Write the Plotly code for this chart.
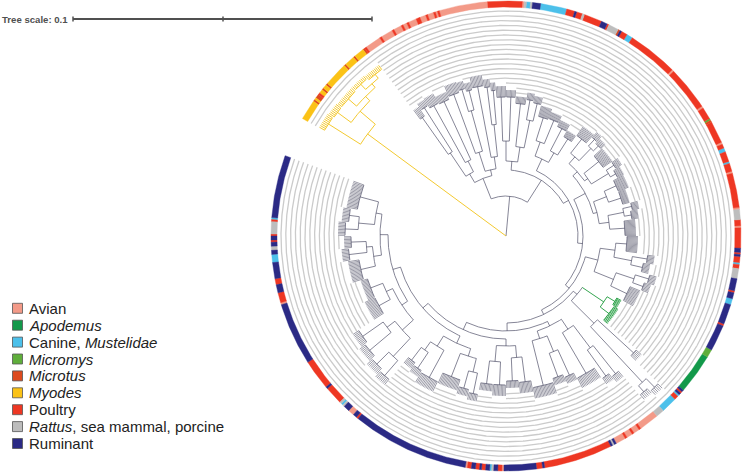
import numpy as np
import plotly.graph_objects as go

# colour strip: host group of each run of strains, clockwise from the Myodes end
ring_group = ["My", "Mt", "My", "Mt", "P", "My", "Mt", "My", "Mt", "My", "Mt", "My", "Mt", "My", "Mt", "P",
              "A", "P", "A", "P", "A", "P", "A", "P", "A", "P", "A", "P", "A", "P", "A", "P", "A",
              "P", "A", "R", "C", "R", "Ru", "C", "P", "Ru", "P", "R", "P", "Ru", "P", "R", "Mt", "Ru", "P", "C",
              "P", "A", "P", "A", "P", "Mi", "Mt", "P", "A", "P", "C", "P", "C", "P", "A", "P", "A", "R", "P", "A", "P",
              "Ru", "P", "Ru", "P", "C", "P", "R", "Ru", "P", "Ru", "C", "Ru", "P", "Ru",
              "Mi", "Ap", "Ru", "P", "Ru", "C", "P", "C", "R",
              "A", "P", "A", "P", "A", "P", "A", "Ru", "R", "Ru",
              "P", "Ru", "P", "Ru", "A", "P", "Ru", "R", "C", "Ru", "P", "Ru", "P", "Ru", "P", "A",
              "Ru", "P", "Ru", "A", "Ru", "R", "C", "R", "P", "Ru", "P", "Ru",
              "A", "P", "Ru", "P", "Ru", "C", "Ru", "R", "Ru", "P", "Ru", "P", "R", "P", "C", "Ru"]
ring_count = [10, 1, 1, 2, 1, 2, 1, 2, 1, 12, 1, 5, 1, 5, 1, 1,
              8, 1, 6, 1, 4, 1, 2, 1, 4, 2, 3, 1, 3, 1, 1, 1, 24,
              17, 1, 1, 2, 1, 4, 13, 4, 1, 3, 1, 9, 3, 1, 5, 1, 1, 3, 3,
              25, 1, 22, 1, 6, 1, 1, 11, 1, 2, 2, 5, 1, 4, 1, 17, 1, 5, 3, 1, 10,
              2, 1, 1, 3, 1, 2, 5, 6, 1, 3, 3, 10, 1, 13,
              4, 20, 1, 1, 1, 1, 2, 8, 4,
              10, 1, 3, 1, 3, 1, 5, 1, 1, 1,
              34, 1, 3, 16, 1, 2, 2, 1, 1, 2, 2, 1, 2, 2, 2, 1,
              58, 1, 2, 3, 3, 1, 1, 1, 9, 1, 15, 31,
              1, 5, 4, 3, 8, 4, 2, 2, 2, 1, 2, 1, 6, 1, 1, 31]

group_code = ["A", "Ap", "C", "Mi", "Mt", "My", "P", "R", "Ru"]
group_label = ["Avian", "<i>Apodemus</i>", "Canine, <i>Mustelidae</i>", "<i>Micromys</i>", "<i>Microtus</i>",
               "<i>Myodes</i>", "Poultry", "<i>Rattus</i>, sea mammal, porcine", "Ruminant"]
group_color = ["#f39a88", "#12994a", "#4cc0ea", "#5fae3b", "#dd4a1e", "#fbc216", "#ee3723", "#bdbdbd", "#2b2a85"]

# tree clades: (first strain, last strain + 1, node radius)
clades = [
    # Myodes
    (0, 47, 172), (0, 9, 210), (9, 47, 192), (9, 16, 209), (16, 47, 198), (16, 28, 209), (28, 47, 203),
    (28, 37, 210), (37, 47, 208),
    # rest of the tree
    (47, 700, 40),
    (47, 112, 62), (47, 75, 72), (47, 58, 100), (47, 52, 145), (52, 58, 152), (58, 75, 84), (58, 66, 149),
    (66, 75, 148), (75, 112, 68), (75, 94, 88), (75, 84, 151), (84, 94, 130), (84, 89, 153), (89, 94, 150),
    (94, 112, 80), (94, 103, 152), (103, 112, 112), (103, 108, 150), (108, 112, 146),
    (112, 700, 66), (112, 150, 75), (112, 128, 95), (112, 120, 139), (120, 128, 139), (128, 150, 90),
    (128, 137, 133), (137, 150, 118), (137, 143, 138), (143, 150, 136),
    (150, 700, 72), (150, 190, 85), (150, 170, 100), (150, 160, 124), (160, 170, 125), (170, 190, 96),
    (170, 180, 121), (180, 190, 115),
    (190, 700, 77), (190, 300, 90), (190, 245, 96), (190, 215, 105), (190, 202, 123), (202, 215, 122),
    (202, 208, 131), (208, 215, 129), (215, 245, 100), (215, 230, 119), (230, 245, 120), (230, 237, 129),
    (237, 245, 126), (245, 300, 94), (245, 270, 108), (245, 257, 121), (257, 270, 121), (270, 300, 104),
    (270, 285, 120), (270, 277, 129), (277, 285, 127), (285, 300, 119),
    (300, 700, 82), (300, 358, 95), (300, 330, 110), (300, 315, 121), (315, 330, 128), (315, 322, 143),
    (322, 330, 140), (330, 358, 116), (330, 344, 135), (330, 337, 149), (337, 344, 146), (344, 358, 134),
    (358, 700, 87), (358, 400, 92), (358, 382, 118), (358, 366, 127), (366, 382, 129), (382, 400, 124),
    (382, 388, 173), (388, 400, 200), (388, 394, 212), (394, 400, 208),
    (400, 700, 95), (400, 460, 100), (400, 427, 112), (400, 412, 140), (400, 406, 176), (406, 412, 172),
    (412, 427, 159), (427, 460, 108), (427, 444, 125), (427, 435, 153), (435, 444, 150), (444, 460, 154),
    (460, 700, 103), (460, 500, 110), (460, 480, 122), (460, 470, 147), (470, 480, 145), (480, 500, 126),
    (480, 490, 149), (490, 500, 149),
    (500, 700, 110), (500, 558, 118), (500, 530, 126), (500, 515, 140), (500, 507, 161), (507, 515, 158),
    (515, 530, 151), (530, 558, 130), (530, 544, 161), (544, 558, 140), (544, 551, 159), (551, 558, 156),
    (558, 700, 118), (558, 626, 125), (558, 595, 140), (558, 575, 165), (558, 566, 185), (566, 575, 182),
    (575, 595, 150), (575, 585, 178), (585, 595, 175), (595, 626, 132), (595, 610, 145), (610, 626, 145),
    (626, 700, 126), (626, 660, 134), (626, 642, 149), (642, 660, 140), (642, 651, 158), (651, 660, 155),
    (660, 700, 132), (660, 680, 148), (660, 670, 161), (670, 680, 158), (680, 700, 151),
]
# tip radius of the strains in each terminal clade
tips = [
    (0, 9, 216), (9, 16, 215), (16, 28, 214), (28, 37, 214), (37, 47, 213),
    (47, 52, 156), (52, 58, 159), (58, 66, 160), (66, 75, 156), (75, 84, 162), (84, 89, 161), (89, 94, 158),
    (94, 103, 163), (103, 108, 158), (108, 112, 154),
    (112, 120, 150), (120, 128, 146), (128, 137, 140), (137, 143, 145), (143, 150, 143),
    (150, 160, 135), (160, 170, 132), (170, 180, 128), (180, 190, 122),
    (190, 202, 134), (202, 208, 138), (208, 215, 135), (215, 230, 130), (230, 237, 136), (237, 245, 133),
    (245, 257, 132), (257, 270, 128), (270, 277, 136), (277, 285, 134), (285, 300, 130),
    (300, 315, 132), (315, 322, 150), (322, 330, 147), (330, 337, 156), (337, 344, 153), (344, 358, 145),
    (358, 366, 132), (366, 382, 134), (382, 388, 180), (388, 394, 218), (394, 400, 214),
    (400, 406, 183), (406, 412, 179), (412, 427, 170), (427, 435, 160), (435, 444, 157), (444, 460, 165),
    (460, 470, 158), (470, 480, 152), (480, 490, 160), (490, 500, 156),
    (500, 507, 168), (507, 515, 165), (515, 530, 162), (530, 544, 172), (544, 551, 166), (551, 558, 163),
    (558, 566, 192), (566, 575, 189), (575, 585, 185), (585, 595, 182), (595, 610, 156), (610, 626, 152),
    (626, 642, 160), (642, 651, 165), (651, 660, 162), (660, 670, 168), (670, 680, 165), (680, 700, 162),
]
yellow_clade = (0, 47)
green_clade = (358, 382)

n_leaf = sum(ring_count)
start_ang = 150.0
step = 350.0 / n_leaf
R_IN, R_OUT, R_HELP, HELP_GAP = 229, 235, 225, 4.8


def leaf_ang(i):
    return start_ang - (i + 0.5) * step


def xy(r, a):
    t = np.radians(a)
    return r * np.cos(t), r * np.sin(t)


def arc(r, a1, a2):
    n = max(2, int(abs(a2 - a1) / 0.25) + 1)
    aa = np.linspace(a1, a2, n)
    return list(r * np.cos(np.radians(aa))), list(r * np.sin(np.radians(aa)))


def smallest(a, b, skip=None):
    best = None
    for k, (s, e, r) in enumerate(clades):
        if k == skip or (s, e) == (a, b):
            continue
        if s <= a and b <= e:
            if best is None or e - s < clades[best][1] - clades[best][0]:
                best = k
    return best


def colour_of(a, b):
    if yellow_clade[0] <= a and b <= yellow_clade[1]:
        return "y"
    if green_clade[0] <= a and b <= green_clade[1]:
        return "g"
    return "k"


parent = [smallest(s, e, k) for k, (s, e, r) in enumerate(clades)]
leaf_parent = [smallest(i, i + 1) for i in range(n_leaf)]
tip_r = []
for i in range(n_leaf):
    rr = None
    for s, e, r in tips:
        if s <= i < e:
            rr = r
    tip_r.append(rr if rr is not None else clades[leaf_parent[i]][2] + 7)

# lay out clades, smallest first: node sits midway between first and last child
clade_ang = [None] * len(clades)
clade_span = [None] * len(clades)
for k in sorted(range(len(clades)), key=lambda k: clades[k][1] - clades[k][0]):
    angs = [leaf_ang(i) for i in range(n_leaf) if leaf_parent[i] == k]
    angs += [clade_ang[j] for j in range(len(clades)) if parent[j] == k]
    clade_span[k] = (min(angs), max(angs))
    clade_ang[k] = (min(angs) + max(angs)) / 2

lines = {c: ([], []) for c in ["k", "y", "g", "kt"]}


def add(col, xs, ys):
    lines[col][0].extend(list(xs) + [None])
    lines[col][1].extend(list(ys) + [None])


for k, (s, e, r) in enumerate(clades):
    col = colour_of(s, e)
    pr = 0 if parent[k] is None else clades[parent[k]][2]
    x0, y0 = xy(pr, clade_ang[k])
    x1, y1 = xy(r, clade_ang[k])
    add(col, [x0, x1], [y0, y1])
    ax, ay = arc(r, clade_span[k][0], clade_span[k][1])
    add(col, ax, ay)

for i in range(n_leaf):
    col = colour_of(i, i + 1)
    if col == "k":
        col = "kt"
    a = leaf_ang(i)
    x0, y0 = xy(clades[leaf_parent[i]][2], a)
    x1, y1 = xy(tip_r[i], a)
    add(col, [x0, x1], [y0, y1])

fig = go.Figure()

# helper lines from the tips out to the strip (they read as concentric rings)
hx, hy = [], []
rk = R_HELP
while rk > 100:
    i = 0
    while i < n_leaf:
        if tip_r[i] + 3 < rk:
            j = i
            while j + 1 < n_leaf and tip_r[j + 1] + 3 < rk:
                j += 1
            ax, ay = arc(rk, start_ang - i * step, start_ang - (j + 1) * step)
            hx += ax + [None]
            hy += ay + [None]
            i = j + 1
        else:
            i += 1
    rk -= HELP_GAP
fig.add_trace(go.Scatter(x=hx, y=hy, mode="lines", hoverinfo="skip",
                         line=dict(color="#cbcbcb", width=1.3)))

line_style = {"k": ("#52526a", 0.7), "kt": ("#4a4a60", 0.55), "y": ("#f2c318", 0.9), "g": ("#1e9b3c", 0.9)}
for col in ["kt", "k", "y", "g"]:
    c, w = line_style[col]
    fig.add_trace(go.Scatter(x=lines[col][0], y=lines[col][1], mode="lines", hoverinfo="skip",
                             line=dict(color=c, width=w)))

# colour strip
pos = np.concatenate([[0], np.cumsum(ring_count)])
for code, col in zip(group_code, group_color):
    xs, ys = [], []
    for j, g in enumerate(ring_group):
        if g != code:
            continue
        a1 = start_ang - pos[j] * step
        a2 = start_ang - pos[j + 1] * step
        ox, oy = arc(R_OUT, a1, a2)
        ix, iy = arc(R_IN, a2, a1)
        xs += ox + ix + [ox[0], None]
        ys += oy + iy + [oy[0], None]
    fig.add_trace(go.Scatter(x=xs, y=ys, mode="lines", fill="toself", fillcolor=col,
                             line=dict(color=col, width=0.4), hoverinfo="skip"))

# legend
leg_x, leg_y0, leg_dy = -488.5, -72.3, 16.9
leg_y = [leg_y0 - k * leg_dy for k in range(len(group_code))]
fig.add_trace(go.Scatter(x=[leg_x] * len(leg_y), y=leg_y, mode="markers", hoverinfo="skip",
                         marker=dict(symbol="square", size=10, color=group_color,
                                     line=dict(color="#555555", width=0.8))))
for lab, yy in zip(group_label, leg_y):
    fig.add_annotation(x=-479, y=yy, text=lab, showarrow=False, xanchor="left", yanchor="middle",
                       font=dict(family="Liberation Sans, Arial", size=15, color="#222222"))

# tree scale
sb_y = 217
fig.add_trace(go.Scatter(x=[-433, -134], y=[sb_y, sb_y], mode="lines", hoverinfo="skip",
                         line=dict(color="#505050", width=2)))
for tx in [-433, -283, -134]:
    fig.add_trace(go.Scatter(x=[tx, tx], y=[sb_y - 2.5, sb_y + 2.5], mode="lines", hoverinfo="skip",
                             line=dict(color="#505050", width=1.5)))
fig.add_annotation(x=-506, y=sb_y, text="<b>Tree scale: 0.1</b>", showarrow=False, xanchor="left",
                   yanchor="middle", font=dict(family="Liberation Sans, Arial", size=9.6, color="#505050"))

fig.update_layout(width=745, height=473, autosize=False, showlegend=False,
                  margin=dict(l=0, r=0, t=0, b=0), paper_bgcolor="white", plot_bgcolor="white",
                  xaxis=dict(range=[-506, 239], visible=False, fixedrange=True),
                  yaxis=dict(range=[-237, 236], visible=False, fixedrange=True))
fig.write_html("out.html", config={"displayModeBar": False},
               post_script="document.body.style.margin='0px';")
